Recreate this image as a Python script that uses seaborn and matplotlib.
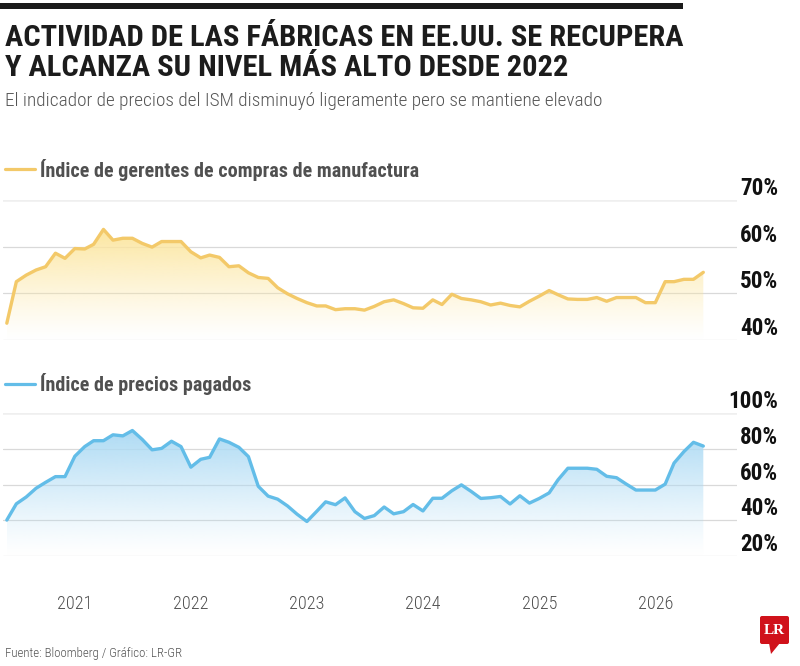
import numpy as np
import pandas as pd
import matplotlib
matplotlib.use("Agg")
import matplotlib.pyplot as plt
import matplotlib.dates as mdates
from matplotlib import font_manager as fm
from matplotlib.lines import Line2D
from matplotlib.patches import FancyBboxPatch, Polygon, PathPatch, Rectangle
from matplotlib.transforms import IdentityTransform
import seaborn as sns

# ---------------- data ----------------
months = pd.date_range("2020-06-01", "2026-06-01", freq="MS")

pmi = [43.6, 52.5, 53.9, 55.0, 55.7, 58.6, 57.5, 59.6, 59.5, 60.5,
       63.7, 61.4, 61.8, 61.8, 60.7, 59.9, 61.1, 61.1, 61.1, 58.9,
       57.6, 58.2, 57.7, 55.7, 55.9, 54.4, 53.4, 53.2, 51.2, 49.9,
       48.9, 48.0, 47.3, 47.3, 46.5, 46.7, 46.7, 46.4, 47.2, 48.2,
       48.6, 47.8, 46.9, 46.8, 48.6, 47.6, 49.8, 48.9, 48.6, 48.2,
       47.5, 47.9, 47.4, 47.1, 48.3, 49.4, 50.6, 49.7, 48.8, 48.7,
       48.7, 49.1, 48.3, 49.1, 49.1, 49.1, 48.0, 48.0, 52.5, 52.5,
       53.0, 53.0, 54.5]

prices = [40.1, 49.2, 53.0, 57.9, 61.2, 64.4, 64.4, 75.8, 81.2, 84.5,
          84.5, 87.8, 87.2, 90.2, 85.2, 79.4, 80.2, 84.2, 81.2, 69.7,
          74.1, 75.2, 85.5, 83.6, 80.8, 75.6, 59.0, 53.5, 51.8, 48.0,
          43.4, 39.3, 45.0, 50.3, 48.7, 52.5, 44.8, 41.0, 42.6, 47.4,
          43.6, 44.8, 48.8, 45.2, 52.3, 52.3, 56.5, 59.8, 56.1, 52.2,
          52.6, 53.3, 49.1, 53.7, 49.6, 52.2, 55.3, 62.6, 69.1, 69.1,
          69.1, 68.5, 64.6, 63.8, 60.3, 56.9, 56.9, 56.9, 60.2, 72.0,
          78.4, 83.6, 81.5]

years = [2021, 2022, 2023, 2024, 2025, 2026]
pmi_ticks = [40, 50, 60, 70]
price_ticks = [20, 40, 60, 80, 100]

title_lines = ["ACTIVIDAD DE LAS FÁBRICAS EN EE.UU. SE RECUPERA",
               "Y ALCANZA SU NIVEL MÁS ALTO DESDE 2022"]
subtitle = "El indicador de precios del ISM disminuyó ligeramente pero se mantiene elevado"
legend_pmi = "Índice de gerentes de compras de manufactura"
legend_prices = "Índice de precios pagados"
source = "Fuente: Bloomberg / Gráfico: LR-GR"

# ---------------- style ----------------
sns.set_theme(style="white")
names = {f.name for f in fm.fontManager.ttflist}
narrow = None
for c in ["Liberation Sans Narrow", "DejaVu Sans Condensed", "Roboto Condensed",
          "Open Sans Condensed", "Noto Sans Condensed", "Arial Narrow"]:
    if c in names:
        narrow = c
        break
STRETCH = "normal"
if narrow is None:
    cond = [f for f in fm.fontManager.ttflist
            if str(f.stretch) in ("condensed", "semi-condensed", "extra-condensed", "ultra-condensed")]
    if cond:
        narrow = cond[0].name
        STRETCH = "condensed"
if narrow is None:
    narrow = "Liberation Sans"
plt.rcParams["font.family"] = [narrow, "DejaVu Sans"]
plt.rcParams["font.stretch"] = STRETCH

W, H = 800, 666
fig = plt.figure(figsize=(W / 100, H / 100), dpi=100)
fig.patch.set_facecolor("white")


def Y(py):
    return 1 - py / H


def axes_px(left, top, right, bottom):
    return fig.add_axes([left / W, 1 - bottom / H, (right - left) / W, (bottom - top) / H])


ax1 = axes_px(3, 200, 737, 340)
ax2 = axes_px(3, 413, 737, 556)

XMIN, XMAX = pd.Timestamp("2020-05-20"), pd.Timestamp("2026-09-15")

YELLOW = "#F3C969"
YELLOW_FILL = "#FCE6A0"
BLUE = "#63BDE8"
BLUE_FILL = "#AEDBF4"


def gradient_fill(ax, x, y, base, ylo, yhi, zorder=1):
    coll = ax.fill_between(x, y, ylo, color="none", lw=0)
    path = coll.get_paths()[0]
    patch = PathPatch(path, transform=ax.transData, facecolor="none", edgecolor="none")
    ax.add_patch(patch)
    rgb = matplotlib.colors.to_rgb(base)
    n = 256
    img = np.zeros((n, 1, 4))
    img[:, :, :3] = rgb
    img[:, 0, 3] = np.linspace(0.0, 1.0, n) ** 1.2
    xn = mdates.date2num(x)
    im = ax.imshow(img, origin="lower", aspect="auto",
                   extent=[xn[0], xn[-1], ylo, yhi], zorder=zorder,
                   interpolation="bilinear")
    im.set_clip_path(patch)


for ax, vals, ticks, col, fcol in [(ax1, pmi, pmi_ticks, YELLOW, YELLOW_FILL),
                                   (ax2, prices, price_ticks, BLUE, BLUE_FILL)]:
    lo, hi = ticks[0], ticks[-1]
    for t in ticks:
        if t == hi:
            ax.axhline(t, color="#efefef", lw=2.6, zorder=0)
        else:
            ax.axhline(t, color="#d9d9d9", lw=0.9, zorder=0)
    gradient_fill(ax, months, vals, fcol, lo, max(vals), zorder=1)
    sns.lineplot(x=months, y=vals, ax=ax, color=col, lw=2.4, zorder=3)
    ax.set_xlim(XMIN, XMAX)
    ax.set_ylim(lo, hi)
    ax.yaxis.tick_right()
    ax.set_yticks(ticks, labels=[f"{t}%" for t in ticks], ha="right", va="bottom")
    ax.tick_params(axis="y", length=0, pad=29.5, labelsize=15, labelcolor="#111111")
    for lab in ax.get_yticklabels():
        lab.set_fontweight("bold")
    ax.set_xlabel("")
    ax.set_ylabel("")
    for s in ax.spines.values():
        s.set_visible(False)
    ax.set_facecolor("none")

ax1.set_xticks([])
ax2.set_xticks(pd.to_datetime([f"{y}-01-01" for y in years]),
               labels=[str(y) for y in years])
ax2.tick_params(axis="x", length=0, pad=28, labelsize=15, labelcolor="#505050")
for lab in ax2.get_xticklabels():
    lab.set_fontweight("light")

# ---------------- texts ----------------
t1 = fig.text(5 / W, Y(46), title_lines[0], fontsize=22, fontweight="bold",
              color="#1c1c1c", va="baseline", ha="left")
t2 = fig.text(5 / W, Y(76), title_lines[1], fontsize=22, fontweight="bold",
              color="#1c1c1c", va="baseline", ha="left")
ts = fig.text(5 / W, Y(106), subtitle, fontsize=13, color="#555555",
              fontweight="light", va="baseline", ha="left")
l1 = fig.text(40 / W, Y(177), legend_pmi, fontsize=15, fontweight="bold",
              color="#505050", va="baseline", ha="left")
l2 = fig.text(40 / W, Y(391), legend_prices, fontsize=15, fontweight="bold",
              color="#505050", va="baseline", ha="left")
fs = fig.text(5 / W, Y(657), source, fontsize=9, color="#555555",
              fontweight="light", va="baseline", ha="left")

fig.add_artist(Line2D([5 / W, 35 / W], [Y(169), Y(169)], color=YELLOW, lw=2.3,
                      transform=fig.transFigure))
fig.add_artist(Line2D([5 / W, 35 / W], [Y(384), Y(384)], color=BLUE, lw=2.3,
                      transform=fig.transFigure))

# black bar on top
fig.add_artist(Rectangle((0, H - 9), 683, 6, transform=IdentityTransform(),
                         facecolor="#1a1a1a", edgecolor="none"))

# LR logo
fig.add_artist(FancyBboxPatch((760, H - 644), 29, 28, boxstyle="round,pad=0,rounding_size=2",
                              transform=IdentityTransform(), facecolor="#D0121B",
                              edgecolor="none"))
fig.add_artist(Polygon([(769, H - 643), (780, H - 643), (771, H - 654)], closed=True,
                       transform=IdentityTransform(), facecolor="#D0121B", edgecolor="none"))
fig.text(774.5 / W, Y(630), "LR", fontsize=11, fontweight="bold", color="white",
         family=["Liberation Serif", "DejaVu Serif"], ha="center", va="center")

# ---------------- fit text widths ----------------
fig.canvas.draw()
rend = fig.canvas.get_renderer()


def fit(text, target):
    for _ in range(3):
        w = text.get_window_extent(rend).width
        text.set_fontsize(text.get_fontsize() * target / w)


fit(t1, 678)
t2.set_fontsize(t1.get_fontsize())
fit(ts, 595)
fit(l1, 378)
l2.set_fontsize(l1.get_fontsize())
fit(fs, 178)

for _ in range(3):
    fig.canvas.draw()
    lab = ax2.get_xticklabels()[0]
    w = lab.get_window_extent(rend).width
    ax2.tick_params(axis="x", labelsize=lab.get_fontsize() * 35 / w)
for _ in range(3):
    fig.canvas.draw()
    lab = ax1.get_yticklabels()[-1]
    w = lab.get_window_extent(rend).width
    sz = lab.get_fontsize() * 38 / w
    ax1.tick_params(axis="y", labelsize=sz)
    ax2.tick_params(axis="y", labelsize=sz)

fig.savefig("out.png", dpi=100, facecolor="white")
